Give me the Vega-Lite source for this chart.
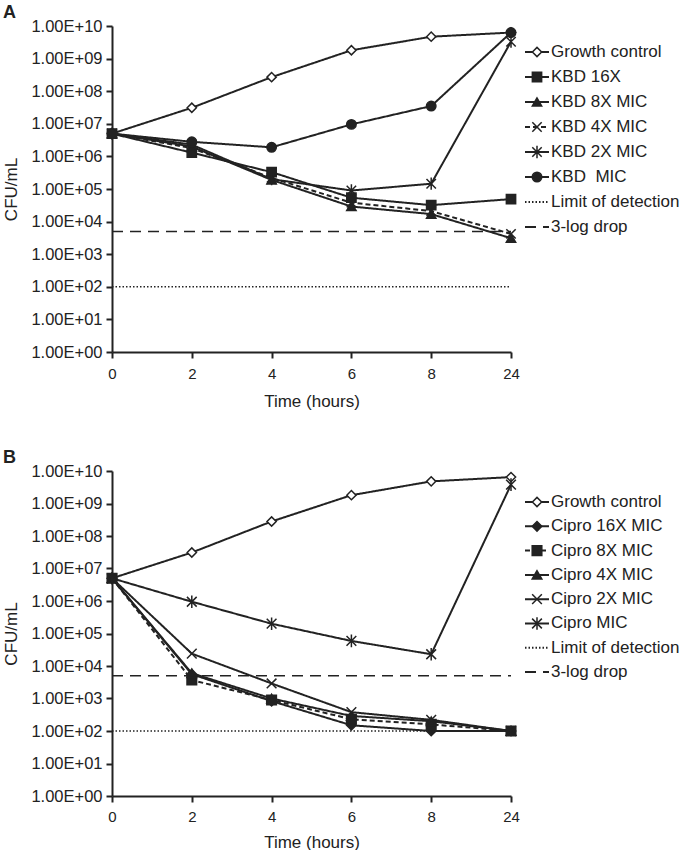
{
  "$schema": "https://vega.github.io/schema/vega-lite/v6.json",
  "padding": {"left": 2, "top": 4, "right": 0, "bottom": 0},
  "background": "white",
  "config": {
    "font": "Liberation Sans",
    "view": {"stroke": null},
    "axis": {"domainColor": "#222", "domainWidth": 2, "tickColor": "#222", "tickWidth": 2, "tickSize": 6, "labelColor": "#222", "labelFontSize": 16.5, "titleColor": "#222", "titleFontSize": 17, "titleFontWeight": "normal", "grid": false, "labelPadding": 4},
    "title": {"fontSize": 18, "fontWeight": "bold", "anchor": "start", "color": "#222", "offset": -4}
  },
  "datasets": {
    "A": [
      {"time": 0, "series": "Growth control", "cfu": 5000000}, {"time": 2, "series": "Growth control", "cfu": 31000000}, {"time": 4, "series": "Growth control", "cfu": 270000000}, {"time": 6, "series": "Growth control", "cfu": 1800000000}, {"time": 8, "series": "Growth control", "cfu": 4700000000}, {"time": 24, "series": "Growth control", "cfu": 6300000000},
      {"time": 0, "series": "KBD 16X", "cfu": 5000000}, {"time": 2, "series": "KBD 16X", "cfu": 1300000}, {"time": 4, "series": "KBD 16X", "cfu": 330000}, {"time": 6, "series": "KBD 16X", "cfu": 54000}, {"time": 8, "series": "KBD 16X", "cfu": 32000}, {"time": 24, "series": "KBD 16X", "cfu": 49000},
      {"time": 0, "series": "KBD 8X MIC", "cfu": 5000000}, {"time": 2, "series": "KBD 8X MIC", "cfu": 2000000}, {"time": 4, "series": "KBD 8X MIC", "cfu": 190000}, {"time": 6, "series": "KBD 8X MIC", "cfu": 29000}, {"time": 8, "series": "KBD 8X MIC", "cfu": 17000}, {"time": 24, "series": "KBD 8X MIC", "cfu": 3100},
      {"time": 0, "series": "KBD 4X MIC", "cfu": 5000000}, {"time": 2, "series": "KBD 4X MIC", "cfu": 1800000}, {"time": 4, "series": "KBD 4X MIC", "cfu": 220000}, {"time": 6, "series": "KBD 4X MIC", "cfu": 38000}, {"time": 8, "series": "KBD 4X MIC", "cfu": 21000}, {"time": 24, "series": "KBD 4X MIC", "cfu": 4200},
      {"time": 0, "series": "KBD 2X MIC", "cfu": 5000000}, {"time": 2, "series": "KBD 2X MIC", "cfu": 2300000}, {"time": 4, "series": "KBD 2X MIC", "cfu": 200000}, {"time": 6, "series": "KBD 2X MIC", "cfu": 90000}, {"time": 8, "series": "KBD 2X MIC", "cfu": 145000}, {"time": 24, "series": "KBD 2X MIC", "cfu": 3300000000},
      {"time": 0, "series": "KBD\u00a0 MIC", "cfu": 5000000}, {"time": 2, "series": "KBD\u00a0 MIC", "cfu": 2800000}, {"time": 4, "series": "KBD\u00a0 MIC", "cfu": 1900000}, {"time": 6, "series": "KBD\u00a0 MIC", "cfu": 9600000}, {"time": 8, "series": "KBD\u00a0 MIC", "cfu": 35000000}, {"time": 24, "series": "KBD\u00a0 MIC", "cfu": 6300000000},
      {"time": 0, "series": "Limit of detection", "cfu": 100}, {"time": 2, "series": "Limit of detection", "cfu": 100}, {"time": 4, "series": "Limit of detection", "cfu": 100}, {"time": 6, "series": "Limit of detection", "cfu": 100}, {"time": 8, "series": "Limit of detection", "cfu": 100}, {"time": 24, "series": "Limit of detection", "cfu": 100},
      {"time": 0, "series": "3-log drop", "cfu": 5000}, {"time": 2, "series": "3-log drop", "cfu": 5000}, {"time": 4, "series": "3-log drop", "cfu": 5000}, {"time": 6, "series": "3-log drop", "cfu": 5000}, {"time": 8, "series": "3-log drop", "cfu": 5000}, {"time": 24, "series": "3-log drop", "cfu": 5000}
    ],
    "B": [
      {"time": 0, "series": "Growth control", "cfu": 5000000}, {"time": 2, "series": "Growth control", "cfu": 31000000}, {"time": 4, "series": "Growth control", "cfu": 280000000}, {"time": 6, "series": "Growth control", "cfu": 1800000000}, {"time": 8, "series": "Growth control", "cfu": 4800000000}, {"time": 24, "series": "Growth control", "cfu": 6500000000},
      {"time": 0, "series": "Cipro 16X MIC", "cfu": 5000000}, {"time": 2, "series": "Cipro 16X MIC", "cfu": 5600}, {"time": 4, "series": "Cipro 16X MIC", "cfu": 830}, {"time": 6, "series": "Cipro 16X MIC", "cfu": 150}, {"time": 8, "series": "Cipro 16X MIC", "cfu": 100}, {"time": 24, "series": "Cipro 16X MIC", "cfu": 100},
      {"time": 0, "series": "Cipro 8X MIC", "cfu": 5000000}, {"time": 2, "series": "Cipro 8X MIC", "cfu": 3700}, {"time": 4, "series": "Cipro 8X MIC", "cfu": 900}, {"time": 6, "series": "Cipro 8X MIC", "cfu": 230}, {"time": 8, "series": "Cipro 8X MIC", "cfu": 160}, {"time": 24, "series": "Cipro 8X MIC", "cfu": 100},
      {"time": 0, "series": "Cipro 4X MIC", "cfu": 5000000}, {"time": 2, "series": "Cipro 4X MIC", "cfu": 6000}, {"time": 4, "series": "Cipro 4X MIC", "cfu": 1000}, {"time": 6, "series": "Cipro 4X MIC", "cfu": 290}, {"time": 8, "series": "Cipro 4X MIC", "cfu": 200}, {"time": 24, "series": "Cipro 4X MIC", "cfu": 100},
      {"time": 0, "series": "Cipro 2X MIC", "cfu": 5000000}, {"time": 2, "series": "Cipro 2X MIC", "cfu": 24000}, {"time": 4, "series": "Cipro 2X MIC", "cfu": 2900}, {"time": 6, "series": "Cipro 2X MIC", "cfu": 380}, {"time": 8, "series": "Cipro 2X MIC", "cfu": 220}, {"time": 24, "series": "Cipro 2X MIC", "cfu": 100},
      {"time": 0, "series": "Cipro MIC", "cfu": 5000000}, {"time": 2, "series": "Cipro MIC", "cfu": 950000}, {"time": 4, "series": "Cipro MIC", "cfu": 200000}, {"time": 6, "series": "Cipro MIC", "cfu": 59000}, {"time": 8, "series": "Cipro MIC", "cfu": 23000}, {"time": 24, "series": "Cipro MIC", "cfu": 3800000000},
      {"time": 0, "series": "Limit of detection", "cfu": 100}, {"time": 2, "series": "Limit of detection", "cfu": 100}, {"time": 4, "series": "Limit of detection", "cfu": 100}, {"time": 6, "series": "Limit of detection", "cfu": 100}, {"time": 8, "series": "Limit of detection", "cfu": 100}, {"time": 24, "series": "Limit of detection", "cfu": 100},
      {"time": 0, "series": "3-log drop", "cfu": 5000}, {"time": 2, "series": "3-log drop", "cfu": 5000}, {"time": 4, "series": "3-log drop", "cfu": 5000}, {"time": 6, "series": "3-log drop", "cfu": 5000}, {"time": 8, "series": "3-log drop", "cfu": 5000}, {"time": 24, "series": "3-log drop", "cfu": 5000}
    ],
    "legA": [
      {"order": 0, "series": "Growth control"}, {"order": 1, "series": "KBD 16X"}, {"order": 2, "series": "KBD 8X MIC"}, {"order": 3, "series": "KBD 4X MIC"}, {"order": 4, "series": "KBD 2X MIC"}, {"order": 5, "series": "KBD\u00a0 MIC"}, {"order": 6, "series": "Limit of detection"}, {"order": 7, "series": "3-log drop"}
    ],
    "legB": [
      {"order": 0, "series": "Growth control"}, {"order": 1, "series": "Cipro 16X MIC"}, {"order": 2, "series": "Cipro 8X MIC"}, {"order": 3, "series": "Cipro 4X MIC"}, {"order": 4, "series": "Cipro 2X MIC"}, {"order": 5, "series": "Cipro MIC"}, {"order": 6, "series": "Limit of detection"}, {"order": 7, "series": "3-log drop"}
    ]
  },
  "spacing": 40,
  "vconcat": [
    {
      "title": {"text": "A"},
      "spacing": 4,
      "hconcat": [
        {
          "width": 399, "height": 326,
          "data": {"name": "A"},
          "encoding": {
            "x": {"field": "time", "type": "ordinal", "sort": [0, 2, 4, 6, 8, 24], "scale": {"type": "point", "padding": 0}, "axis": {"labelAngle": 0, "labelFontSize": 15, "title": "Time (hours)", "labelPadding": 8, "titlePadding": 12}},
            "y": {"field": "cfu", "type": "quantitative", "scale": {"type": "log", "domain": [1, 10000000000], "nice": false}, "axis": {"values": [1, 10, 100, 1000, 10000, 100000, 1000000, 10000000, 100000000, 1000000000, 10000000000], "labelExpr": "'1.00E+' + (round(log(datum.value)/LN10) < 10 ? '0' : '') + round(log(datum.value)/LN10)", "title": "CFU/mL", "titlePadding": 10}}
          },
          "layer": [
            {"transform": [{"filter": "datum.series == 'Limit of detection' || datum.series == '3-log drop'"}],
             "mark": {"type": "line", "strokeWidth": 1.5, "color": "#222"},
             "encoding": {"strokeDash": {"field": "series", "type": "nominal", "legend": null, "scale": {"domain": ["Growth control", "KBD 16X", "KBD 8X MIC", "KBD 4X MIC", "KBD 2X MIC", "KBD\u00a0 MIC", "Cipro 16X MIC", "Cipro 8X MIC", "Cipro 4X MIC", "Cipro 2X MIC", "Cipro MIC", "Limit of detection", "3-log drop"], "range": [[1, 0], [1, 0], [1, 0], [5, 3], [1, 0], [1, 0], [1, 0], [5, 3], [1, 0], [1, 0], [1, 0], [1.5, 2], [11, 7]]}}}},
            {"transform": [{"filter": "datum.series != 'Limit of detection' && datum.series != '3-log drop'"}],
             "mark": {"type": "line", "strokeWidth": 2, "color": "#222"},
             "encoding": {"strokeDash": {"field": "series", "type": "nominal", "legend": null}}},
            {"transform": [{"filter": "datum.series != 'Limit of detection' && datum.series != '3-log drop'"}],
             "mark": {"type": "point", "stroke": "#222", "strokeWidth": 1.5, "opacity": 1, "fillOpacity": 1},
             "encoding": {
               "shape": {"field": "series", "type": "nominal", "legend": null, "scale": {"domain": ["Growth control", "KBD 16X", "KBD 8X MIC", "KBD 4X MIC", "KBD 2X MIC", "KBD\u00a0 MIC", "Cipro 16X MIC", "Cipro 8X MIC", "Cipro 4X MIC", "Cipro 2X MIC", "Cipro MIC"], "range": ["diamond", "square", "triangle-up", "M-1,-1L1,1M-1,1L1,-1", "M-1,-1L1,1M-1,1L1,-1M0,-1.3L0,1.3", "circle", "diamond", "square", "triangle-up", "M-1,-1L1,1M-1,1L1,-1", "M-1,-1L1,1M-1,1L1,-1M0,-1.3L0,1.3"]}},
               "fill": {"field": "series", "type": "nominal", "legend": null, "scale": {"domain": ["Growth control", "KBD 16X", "KBD 8X MIC", "KBD 4X MIC", "KBD 2X MIC", "KBD\u00a0 MIC", "Cipro 16X MIC", "Cipro 8X MIC", "Cipro 4X MIC", "Cipro 2X MIC", "Cipro MIC"], "range": ["white", "#222", "#222", "#222", "#222", "#222", "#222", "#222", "#222", "#222", "#222"]}},
               "size": {"field": "series", "type": "nominal", "legend": null, "scale": {"domain": ["Growth control", "KBD 16X", "KBD 8X MIC", "KBD 4X MIC", "KBD 2X MIC", "KBD\u00a0 MIC", "Cipro 16X MIC", "Cipro 8X MIC", "Cipro 4X MIC", "Cipro 2X MIC", "Cipro MIC"], "range": [85, 95, 95, 70, 80, 95, 60, 95, 95, 70, 80]}}
             }}
          ]
        },
        {
          "width": 24, "height": 326,
          "data": {"name": "legA"},
          "encoding": {
            "y": {"field": "order", "type": "quantitative", "scale": {"domain": [-1.04, 12.0], "reverse": true, "zero": false, "nice": false}, "axis": null}
          },
          "layer": [
            {"mark": {"type": "rule", "strokeWidth": 2, "color": "#222"},
             "encoding": {"x": {"datum": 0, "type": "quantitative", "scale": {"domain": [0, 1]}, "axis": null}, "x2": {"datum": 1}, "strokeDash": {"field": "series", "type": "nominal", "legend": null}}},
            {"transform": [{"filter": "datum.series != 'Limit of detection' && datum.series != '3-log drop'"}],
             "mark": {"type": "point", "stroke": "#222", "strokeWidth": 1.5, "opacity": 1, "fillOpacity": 1},
             "encoding": {"x": {"datum": 0.5, "type": "quantitative"}, "shape": {"field": "series", "type": "nominal", "legend": null}, "fill": {"field": "series", "type": "nominal", "legend": null}, "size": {"field": "series", "type": "nominal", "legend": null}}},
            {"mark": {"type": "text", "align": "left", "baseline": "middle", "dx": 2, "fontSize": 17, "color": "#222"},
             "encoding": {"x": {"datum": 1, "type": "quantitative"}, "text": {"field": "series"}}}
          ]
        }
      ]
    },
    {
      "title": {"text": "B"},
      "spacing": 4,
      "hconcat": [
        {
          "width": 399, "height": 325,
          "data": {"name": "B"},
          "encoding": {
            "x": {"field": "time", "type": "ordinal", "sort": [0, 2, 4, 6, 8, 24], "scale": {"type": "point", "padding": 0}, "axis": {"labelAngle": 0, "labelFontSize": 15, "title": "Time (hours)", "labelPadding": 7, "titlePadding": 10}},
            "y": {"field": "cfu", "type": "quantitative", "scale": {"type": "log", "domain": [1, 10000000000], "nice": false}, "axis": {"values": [1, 10, 100, 1000, 10000, 100000, 1000000, 10000000, 100000000, 1000000000, 10000000000], "labelExpr": "'1.00E+' + (round(log(datum.value)/LN10) < 10 ? '0' : '') + round(log(datum.value)/LN10)", "title": "CFU/mL", "titlePadding": 10}}
          },
          "layer": [
            {"transform": [{"filter": "datum.series == 'Limit of detection' || datum.series == '3-log drop'"}],
             "mark": {"type": "line", "strokeWidth": 1.5, "color": "#222"},
             "encoding": {"strokeDash": {"field": "series", "type": "nominal", "legend": null}}},
            {"transform": [{"filter": "datum.series != 'Limit of detection' && datum.series != '3-log drop'"}],
             "mark": {"type": "line", "strokeWidth": 2, "color": "#222"},
             "encoding": {"strokeDash": {"field": "series", "type": "nominal", "legend": null}}},
            {"transform": [{"filter": "datum.series != 'Limit of detection' && datum.series != '3-log drop'"}],
             "mark": {"type": "point", "stroke": "#222", "strokeWidth": 1.5, "opacity": 1, "fillOpacity": 1},
             "encoding": {"shape": {"field": "series", "type": "nominal", "legend": null}, "fill": {"field": "series", "type": "nominal", "legend": null}, "size": {"field": "series", "type": "nominal", "legend": null}}}
          ]
        },
        {
          "width": 24, "height": 325,
          "data": {"name": "legB"},
          "encoding": {
            "y": {"field": "order", "type": "quantitative", "scale": {"domain": [-1.276, 12.1], "reverse": true, "zero": false, "nice": false}, "axis": null}
          },
          "layer": [
            {"mark": {"type": "rule", "strokeWidth": 2, "color": "#222"},
             "encoding": {"x": {"datum": 0, "type": "quantitative", "scale": {"domain": [0, 1]}, "axis": null}, "x2": {"datum": 1}, "strokeDash": {"field": "series", "type": "nominal", "legend": null}}},
            {"transform": [{"filter": "datum.series != 'Limit of detection' && datum.series != '3-log drop'"}],
             "mark": {"type": "point", "stroke": "#222", "strokeWidth": 1.5, "opacity": 1, "fillOpacity": 1},
             "encoding": {"x": {"datum": 0.5, "type": "quantitative"}, "shape": {"field": "series", "type": "nominal", "legend": null}, "fill": {"field": "series", "type": "nominal", "legend": null}, "size": {"field": "series", "type": "nominal", "legend": null}}},
            {"mark": {"type": "text", "align": "left", "baseline": "middle", "dx": 2, "fontSize": 17, "color": "#222"},
             "encoding": {"x": {"datum": 1, "type": "quantitative"}, "text": {"field": "series"}}}
          ]
        }
      ]
    }
  ]
}
